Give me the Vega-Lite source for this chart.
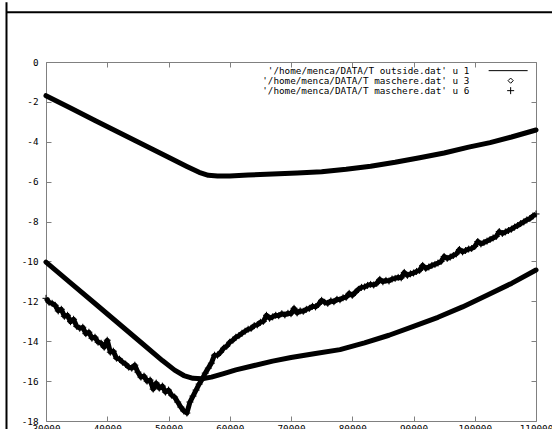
{
  "$schema": "https://vega.github.io/schema/vega-lite/v6.json",
  "width": 490,
  "height": 359,
  "autosize": {"type": "none"},
  "padding": {"left": 46, "top": 62, "right": 16, "bottom": 8},
  "background": "white",
  "title": {
    "text": "Air temperature and motor masks at float",
    "font": "DejaVu Sans Mono",
    "fontSize": 9.3,
    "fontWeight": "normal",
    "color": "black",
    "anchor": "middle",
    "dx": -15,
    "offset": 9
  },
  "config": {
    "view": {"stroke": null},
    "axis": {
      "domainColor": "#808080",
      "tickColor": "#808080",
      "domainWidth": 1,
      "tickWidth": 1,
      "labelFont": "DejaVu Sans Mono",
      "labelFontSize": 9.3,
      "labelColor": "black",
      "labelFlush": false,
      "grid": false,
      "title": null
    }
  },
  "data": {
    "values": [
      {"series": "'/home/menca/DATA/T outside.dat' u 1", "t": 30000, "temp": -1.69},
      {"series": "'/home/menca/DATA/T outside.dat' u 1", "t": 34000, "temp": -2.31},
      {"series": "'/home/menca/DATA/T outside.dat' u 1", "t": 38000, "temp": -2.93},
      {"series": "'/home/menca/DATA/T outside.dat' u 1", "t": 42000, "temp": -3.55},
      {"series": "'/home/menca/DATA/T outside.dat' u 1", "t": 46000, "temp": -4.16},
      {"series": "'/home/menca/DATA/T outside.dat' u 1", "t": 50000, "temp": -4.78},
      {"series": "'/home/menca/DATA/T outside.dat' u 1", "t": 53000, "temp": -5.24},
      {"series": "'/home/menca/DATA/T outside.dat' u 1", "t": 55000, "temp": -5.53},
      {"series": "'/home/menca/DATA/T outside.dat' u 1", "t": 56500, "temp": -5.68},
      {"series": "'/home/menca/DATA/T outside.dat' u 1", "t": 58000, "temp": -5.72},
      {"series": "'/home/menca/DATA/T outside.dat' u 1", "t": 60000, "temp": -5.71},
      {"series": "'/home/menca/DATA/T outside.dat' u 1", "t": 63000, "temp": -5.67},
      {"series": "'/home/menca/DATA/T outside.dat' u 1", "t": 67000, "temp": -5.62},
      {"series": "'/home/menca/DATA/T outside.dat' u 1", "t": 71000, "temp": -5.57},
      {"series": "'/home/menca/DATA/T outside.dat' u 1", "t": 75000, "temp": -5.5},
      {"series": "'/home/menca/DATA/T outside.dat' u 1", "t": 79000, "temp": -5.38},
      {"series": "'/home/menca/DATA/T outside.dat' u 1", "t": 83000, "temp": -5.23},
      {"series": "'/home/menca/DATA/T outside.dat' u 1", "t": 87000, "temp": -5.03},
      {"series": "'/home/menca/DATA/T outside.dat' u 1", "t": 91000, "temp": -4.8},
      {"series": "'/home/menca/DATA/T outside.dat' u 1", "t": 95000, "temp": -4.56},
      {"series": "'/home/menca/DATA/T outside.dat' u 1", "t": 99000, "temp": -4.27},
      {"series": "'/home/menca/DATA/T outside.dat' u 1", "t": 102500, "temp": -4.04},
      {"series": "'/home/menca/DATA/T outside.dat' u 1", "t": 106000, "temp": -3.76},
      {"series": "'/home/menca/DATA/T outside.dat' u 1", "t": 110000, "temp": -3.41},

      {"series": "'/home/menca/DATA/T maschere.dat' u 3", "t": 30000, "temp": -10.03},
      {"series": "'/home/menca/DATA/T maschere.dat' u 3", "t": 34000, "temp": -11.07},
      {"series": "'/home/menca/DATA/T maschere.dat' u 3", "t": 38000, "temp": -12.11},
      {"series": "'/home/menca/DATA/T maschere.dat' u 3", "t": 42000, "temp": -13.15},
      {"series": "'/home/menca/DATA/T maschere.dat' u 3", "t": 46000, "temp": -14.19},
      {"series": "'/home/menca/DATA/T maschere.dat' u 3", "t": 49000, "temp": -14.97},
      {"series": "'/home/menca/DATA/T maschere.dat' u 3", "t": 51000, "temp": -15.45},
      {"series": "'/home/menca/DATA/T maschere.dat' u 3", "t": 52500, "temp": -15.72},
      {"series": "'/home/menca/DATA/T maschere.dat' u 3", "t": 54000, "temp": -15.86},
      {"series": "'/home/menca/DATA/T maschere.dat' u 3", "t": 55500, "temp": -15.88},
      {"series": "'/home/menca/DATA/T maschere.dat' u 3", "t": 57000, "temp": -15.8},
      {"series": "'/home/menca/DATA/T maschere.dat' u 3", "t": 59000, "temp": -15.62},
      {"series": "'/home/menca/DATA/T maschere.dat' u 3", "t": 61000, "temp": -15.44},
      {"series": "'/home/menca/DATA/T maschere.dat' u 3", "t": 64000, "temp": -15.22},
      {"series": "'/home/menca/DATA/T maschere.dat' u 3", "t": 67000, "temp": -15.0},
      {"series": "'/home/menca/DATA/T maschere.dat' u 3", "t": 70000, "temp": -14.82},
      {"series": "'/home/menca/DATA/T maschere.dat' u 3", "t": 74000, "temp": -14.62},
      {"series": "'/home/menca/DATA/T maschere.dat' u 3", "t": 78000, "temp": -14.42},
      {"series": "'/home/menca/DATA/T maschere.dat' u 3", "t": 82000, "temp": -14.08},
      {"series": "'/home/menca/DATA/T maschere.dat' u 3", "t": 86000, "temp": -13.7},
      {"series": "'/home/menca/DATA/T maschere.dat' u 3", "t": 90000, "temp": -13.26},
      {"series": "'/home/menca/DATA/T maschere.dat' u 3", "t": 94000, "temp": -12.8},
      {"series": "'/home/menca/DATA/T maschere.dat' u 3", "t": 98000, "temp": -12.28},
      {"series": "'/home/menca/DATA/T maschere.dat' u 3", "t": 102000, "temp": -11.7},
      {"series": "'/home/menca/DATA/T maschere.dat' u 3", "t": 106000, "temp": -11.1},
      {"series": "'/home/menca/DATA/T maschere.dat' u 3", "t": 110000, "temp": -10.43},

      {"series": "'/home/menca/DATA/T maschere.dat' u 6", "t": 30000, "temp": -11.85},
      {"series": "'/home/menca/DATA/T maschere.dat' u 6", "t": 30500, "temp": -12.05},
      {"series": "'/home/menca/DATA/T maschere.dat' u 6", "t": 31000, "temp": -12.1},
      {"series": "'/home/menca/DATA/T maschere.dat' u 6", "t": 31500, "temp": -12.2},
      {"series": "'/home/menca/DATA/T maschere.dat' u 6", "t": 32000, "temp": -12.48},
      {"series": "'/home/menca/DATA/T maschere.dat' u 6", "t": 32500, "temp": -12.4},
      {"series": "'/home/menca/DATA/T maschere.dat' u 6", "t": 33000, "temp": -12.75},
      {"series": "'/home/menca/DATA/T maschere.dat' u 6", "t": 33500, "temp": -12.7},
      {"series": "'/home/menca/DATA/T maschere.dat' u 6", "t": 34000, "temp": -13.02},
      {"series": "'/home/menca/DATA/T maschere.dat' u 6", "t": 34500, "temp": -12.9},
      {"series": "'/home/menca/DATA/T maschere.dat' u 6", "t": 35000, "temp": -13.25},
      {"series": "'/home/menca/DATA/T maschere.dat' u 6", "t": 35500, "temp": -13.35},
      {"series": "'/home/menca/DATA/T maschere.dat' u 6", "t": 36000, "temp": -13.3},
      {"series": "'/home/menca/DATA/T maschere.dat' u 6", "t": 36500, "temp": -13.62},
      {"series": "'/home/menca/DATA/T maschere.dat' u 6", "t": 37000, "temp": -13.55},
      {"series": "'/home/menca/DATA/T maschere.dat' u 6", "t": 37500, "temp": -13.85},
      {"series": "'/home/menca/DATA/T maschere.dat' u 6", "t": 38000, "temp": -13.8},
      {"series": "'/home/menca/DATA/T maschere.dat' u 6", "t": 38500, "temp": -14.05},
      {"series": "'/home/menca/DATA/T maschere.dat' u 6", "t": 39000, "temp": -14.1},
      {"series": "'/home/menca/DATA/T maschere.dat' u 6", "t": 39500, "temp": -14.3},
      {"series": "'/home/menca/DATA/T maschere.dat' u 6", "t": 40000, "temp": -13.95},
      {"series": "'/home/menca/DATA/T maschere.dat' u 6", "t": 40500, "temp": -14.55},
      {"series": "'/home/menca/DATA/T maschere.dat' u 6", "t": 41000, "temp": -14.5},
      {"series": "'/home/menca/DATA/T maschere.dat' u 6", "t": 41500, "temp": -14.85},
      {"series": "'/home/menca/DATA/T maschere.dat' u 6", "t": 42000, "temp": -14.9},
      {"series": "'/home/menca/DATA/T maschere.dat' u 6", "t": 42500, "temp": -15.05},
      {"series": "'/home/menca/DATA/T maschere.dat' u 6", "t": 43000, "temp": -15.15},
      {"series": "'/home/menca/DATA/T maschere.dat' u 6", "t": 43500, "temp": -15.3},
      {"series": "'/home/menca/DATA/T maschere.dat' u 6", "t": 44000, "temp": -15.35},
      {"series": "'/home/menca/DATA/T maschere.dat' u 6", "t": 44500, "temp": -15.2},
      {"series": "'/home/menca/DATA/T maschere.dat' u 6", "t": 45000, "temp": -15.55},
      {"series": "'/home/menca/DATA/T maschere.dat' u 6", "t": 45500, "temp": -15.8},
      {"series": "'/home/menca/DATA/T maschere.dat' u 6", "t": 46000, "temp": -15.75},
      {"series": "'/home/menca/DATA/T maschere.dat' u 6", "t": 46500, "temp": -16.0},
      {"series": "'/home/menca/DATA/T maschere.dat' u 6", "t": 47000, "temp": -15.95},
      {"series": "'/home/menca/DATA/T maschere.dat' u 6", "t": 47500, "temp": -16.4},
      {"series": "'/home/menca/DATA/T maschere.dat' u 6", "t": 48000, "temp": -16.1},
      {"series": "'/home/menca/DATA/T maschere.dat' u 6", "t": 48500, "temp": -16.35},
      {"series": "'/home/menca/DATA/T maschere.dat' u 6", "t": 49000, "temp": -16.25},
      {"series": "'/home/menca/DATA/T maschere.dat' u 6", "t": 49500, "temp": -16.55},
      {"series": "'/home/menca/DATA/T maschere.dat' u 6", "t": 50000, "temp": -16.45},
      {"series": "'/home/menca/DATA/T maschere.dat' u 6", "t": 50500, "temp": -16.7},
      {"series": "'/home/menca/DATA/T maschere.dat' u 6", "t": 51000, "temp": -16.8},
      {"series": "'/home/menca/DATA/T maschere.dat' u 6", "t": 51500, "temp": -17.05},
      {"series": "'/home/menca/DATA/T maschere.dat' u 6", "t": 52000, "temp": -17.3},
      {"series": "'/home/menca/DATA/T maschere.dat' u 6", "t": 52500, "temp": -17.5},
      {"series": "'/home/menca/DATA/T maschere.dat' u 6", "t": 53000, "temp": -17.6},
      {"series": "'/home/menca/DATA/T maschere.dat' u 6", "t": 53500, "temp": -17.05},
      {"series": "'/home/menca/DATA/T maschere.dat' u 6", "t": 54000, "temp": -16.75},
      {"series": "'/home/menca/DATA/T maschere.dat' u 6", "t": 54500, "temp": -16.45},
      {"series": "'/home/menca/DATA/T maschere.dat' u 6", "t": 55000, "temp": -16.15},
      {"series": "'/home/menca/DATA/T maschere.dat' u 6", "t": 55500, "temp": -15.9},
      {"series": "'/home/menca/DATA/T maschere.dat' u 6", "t": 56000, "temp": -15.6},
      {"series": "'/home/menca/DATA/T maschere.dat' u 6", "t": 56500, "temp": -15.35},
      {"series": "'/home/menca/DATA/T maschere.dat' u 6", "t": 57000, "temp": -15.1},
      {"series": "'/home/menca/DATA/T maschere.dat' u 6", "t": 57500, "temp": -14.7},
      {"series": "'/home/menca/DATA/T maschere.dat' u 6", "t": 58000, "temp": -14.7},
      {"series": "'/home/menca/DATA/T maschere.dat' u 6", "t": 58500, "temp": -14.55},
      {"series": "'/home/menca/DATA/T maschere.dat' u 6", "t": 59000, "temp": -14.35},
      {"series": "'/home/menca/DATA/T maschere.dat' u 6", "t": 59500, "temp": -14.25},
      {"series": "'/home/menca/DATA/T maschere.dat' u 6", "t": 60000, "temp": -14.05},
      {"series": "'/home/menca/DATA/T maschere.dat' u 6", "t": 60500, "temp": -13.95},
      {"series": "'/home/menca/DATA/T maschere.dat' u 6", "t": 61000, "temp": -13.8},
      {"series": "'/home/menca/DATA/T maschere.dat' u 6", "t": 61500, "temp": -13.72},
      {"series": "'/home/menca/DATA/T maschere.dat' u 6", "t": 62000, "temp": -13.6},
      {"series": "'/home/menca/DATA/T maschere.dat' u 6", "t": 62500, "temp": -13.5},
      {"series": "'/home/menca/DATA/T maschere.dat' u 6", "t": 63000, "temp": -13.4},
      {"series": "'/home/menca/DATA/T maschere.dat' u 6", "t": 63500, "temp": -13.35},
      {"series": "'/home/menca/DATA/T maschere.dat' u 6", "t": 64000, "temp": -13.22},
      {"series": "'/home/menca/DATA/T maschere.dat' u 6", "t": 64500, "temp": -13.18},
      {"series": "'/home/menca/DATA/T maschere.dat' u 6", "t": 65000, "temp": -13.05},
      {"series": "'/home/menca/DATA/T maschere.dat' u 6", "t": 65500, "temp": -13.0},
      {"series": "'/home/menca/DATA/T maschere.dat' u 6", "t": 66000, "temp": -12.7},
      {"series": "'/home/menca/DATA/T maschere.dat' u 6", "t": 66500, "temp": -12.85},
      {"series": "'/home/menca/DATA/T maschere.dat' u 6", "t": 67000, "temp": -12.78},
      {"series": "'/home/menca/DATA/T maschere.dat' u 6", "t": 67500, "temp": -12.7},
      {"series": "'/home/menca/DATA/T maschere.dat' u 6", "t": 68000, "temp": -12.72},
      {"series": "'/home/menca/DATA/T maschere.dat' u 6", "t": 68500, "temp": -12.62},
      {"series": "'/home/menca/DATA/T maschere.dat' u 6", "t": 69000, "temp": -12.68},
      {"series": "'/home/menca/DATA/T maschere.dat' u 6", "t": 69500, "temp": -12.6},
      {"series": "'/home/menca/DATA/T maschere.dat' u 6", "t": 70000, "temp": -12.62},
      {"series": "'/home/menca/DATA/T maschere.dat' u 6", "t": 70500, "temp": -12.35},
      {"series": "'/home/menca/DATA/T maschere.dat' u 6", "t": 71000, "temp": -12.58},
      {"series": "'/home/menca/DATA/T maschere.dat' u 6", "t": 71500, "temp": -12.48},
      {"series": "'/home/menca/DATA/T maschere.dat' u 6", "t": 72000, "temp": -12.5},
      {"series": "'/home/menca/DATA/T maschere.dat' u 6", "t": 72500, "temp": -12.4},
      {"series": "'/home/menca/DATA/T maschere.dat' u 6", "t": 73000, "temp": -12.35},
      {"series": "'/home/menca/DATA/T maschere.dat' u 6", "t": 73500, "temp": -12.25},
      {"series": "'/home/menca/DATA/T maschere.dat' u 6", "t": 74000, "temp": -12.28},
      {"series": "'/home/menca/DATA/T maschere.dat' u 6", "t": 74500, "temp": -12.15},
      {"series": "'/home/menca/DATA/T maschere.dat' u 6", "t": 75000, "temp": -11.95},
      {"series": "'/home/menca/DATA/T maschere.dat' u 6", "t": 75500, "temp": -12.05},
      {"series": "'/home/menca/DATA/T maschere.dat' u 6", "t": 76000, "temp": -12.1},
      {"series": "'/home/menca/DATA/T maschere.dat' u 6", "t": 76500, "temp": -11.98},
      {"series": "'/home/menca/DATA/T maschere.dat' u 6", "t": 77000, "temp": -12.02},
      {"series": "'/home/menca/DATA/T maschere.dat' u 6", "t": 77500, "temp": -11.9},
      {"series": "'/home/menca/DATA/T maschere.dat' u 6", "t": 78000, "temp": -11.92},
      {"series": "'/home/menca/DATA/T maschere.dat' u 6", "t": 78500, "temp": -11.82},
      {"series": "'/home/menca/DATA/T maschere.dat' u 6", "t": 79000, "temp": -11.8},
      {"series": "'/home/menca/DATA/T maschere.dat' u 6", "t": 79500, "temp": -11.6},
      {"series": "'/home/menca/DATA/T maschere.dat' u 6", "t": 80000, "temp": -11.7},
      {"series": "'/home/menca/DATA/T maschere.dat' u 6", "t": 80500, "temp": -11.55},
      {"series": "'/home/menca/DATA/T maschere.dat' u 6", "t": 81000, "temp": -11.4},
      {"series": "'/home/menca/DATA/T maschere.dat' u 6", "t": 81500, "temp": -11.3},
      {"series": "'/home/menca/DATA/T maschere.dat' u 6", "t": 82000, "temp": -11.28},
      {"series": "'/home/menca/DATA/T maschere.dat' u 6", "t": 82500, "temp": -11.2},
      {"series": "'/home/menca/DATA/T maschere.dat' u 6", "t": 83000, "temp": -11.15},
      {"series": "'/home/menca/DATA/T maschere.dat' u 6", "t": 83500, "temp": -11.18},
      {"series": "'/home/menca/DATA/T maschere.dat' u 6", "t": 84000, "temp": -11.1},
      {"series": "'/home/menca/DATA/T maschere.dat' u 6", "t": 84500, "temp": -10.9},
      {"series": "'/home/menca/DATA/T maschere.dat' u 6", "t": 85000, "temp": -11.02},
      {"series": "'/home/menca/DATA/T maschere.dat' u 6", "t": 85500, "temp": -10.95},
      {"series": "'/home/menca/DATA/T maschere.dat' u 6", "t": 86000, "temp": -10.98},
      {"series": "'/home/menca/DATA/T maschere.dat' u 6", "t": 86500, "temp": -10.88},
      {"series": "'/home/menca/DATA/T maschere.dat' u 6", "t": 87000, "temp": -10.85},
      {"series": "'/home/menca/DATA/T maschere.dat' u 6", "t": 87500, "temp": -10.8},
      {"series": "'/home/menca/DATA/T maschere.dat' u 6", "t": 88000, "temp": -10.82},
      {"series": "'/home/menca/DATA/T maschere.dat' u 6", "t": 88500, "temp": -10.55},
      {"series": "'/home/menca/DATA/T maschere.dat' u 6", "t": 89000, "temp": -10.7},
      {"series": "'/home/menca/DATA/T maschere.dat' u 6", "t": 89500, "temp": -10.62},
      {"series": "'/home/menca/DATA/T maschere.dat' u 6", "t": 90000, "temp": -10.58},
      {"series": "'/home/menca/DATA/T maschere.dat' u 6", "t": 90500, "temp": -10.5},
      {"series": "'/home/menca/DATA/T maschere.dat' u 6", "t": 91000, "temp": -10.45},
      {"series": "'/home/menca/DATA/T maschere.dat' u 6", "t": 91500, "temp": -10.2},
      {"series": "'/home/menca/DATA/T maschere.dat' u 6", "t": 92000, "temp": -10.35},
      {"series": "'/home/menca/DATA/T maschere.dat' u 6", "t": 92500, "temp": -10.28},
      {"series": "'/home/menca/DATA/T maschere.dat' u 6", "t": 93000, "temp": -10.2},
      {"series": "'/home/menca/DATA/T maschere.dat' u 6", "t": 93500, "temp": -10.15},
      {"series": "'/home/menca/DATA/T maschere.dat' u 6", "t": 94000, "temp": -10.08},
      {"series": "'/home/menca/DATA/T maschere.dat' u 6", "t": 94500, "temp": -10.0},
      {"series": "'/home/menca/DATA/T maschere.dat' u 6", "t": 95000, "temp": -9.75},
      {"series": "'/home/menca/DATA/T maschere.dat' u 6", "t": 95500, "temp": -9.85},
      {"series": "'/home/menca/DATA/T maschere.dat' u 6", "t": 96000, "temp": -9.78},
      {"series": "'/home/menca/DATA/T maschere.dat' u 6", "t": 96500, "temp": -9.7},
      {"series": "'/home/menca/DATA/T maschere.dat' u 6", "t": 97000, "temp": -9.62},
      {"series": "'/home/menca/DATA/T maschere.dat' u 6", "t": 97500, "temp": -9.4},
      {"series": "'/home/menca/DATA/T maschere.dat' u 6", "t": 98000, "temp": -9.52},
      {"series": "'/home/menca/DATA/T maschere.dat' u 6", "t": 98500, "temp": -9.45},
      {"series": "'/home/menca/DATA/T maschere.dat' u 6", "t": 99000, "temp": -9.38},
      {"series": "'/home/menca/DATA/T maschere.dat' u 6", "t": 99500, "temp": -9.35},
      {"series": "'/home/menca/DATA/T maschere.dat' u 6", "t": 100000, "temp": -9.25},
      {"series": "'/home/menca/DATA/T maschere.dat' u 6", "t": 100500, "temp": -9.0},
      {"series": "'/home/menca/DATA/T maschere.dat' u 6", "t": 101000, "temp": -9.12},
      {"series": "'/home/menca/DATA/T maschere.dat' u 6", "t": 101500, "temp": -9.05},
      {"series": "'/home/menca/DATA/T maschere.dat' u 6", "t": 102000, "temp": -8.98},
      {"series": "'/home/menca/DATA/T maschere.dat' u 6", "t": 102500, "temp": -8.9},
      {"series": "'/home/menca/DATA/T maschere.dat' u 6", "t": 103000, "temp": -8.82},
      {"series": "'/home/menca/DATA/T maschere.dat' u 6", "t": 103500, "temp": -8.75},
      {"series": "'/home/menca/DATA/T maschere.dat' u 6", "t": 104000, "temp": -8.5},
      {"series": "'/home/menca/DATA/T maschere.dat' u 6", "t": 104500, "temp": -8.6},
      {"series": "'/home/menca/DATA/T maschere.dat' u 6", "t": 105000, "temp": -8.52},
      {"series": "'/home/menca/DATA/T maschere.dat' u 6", "t": 105500, "temp": -8.45},
      {"series": "'/home/menca/DATA/T maschere.dat' u 6", "t": 106000, "temp": -8.38},
      {"series": "'/home/menca/DATA/T maschere.dat' u 6", "t": 106500, "temp": -8.28},
      {"series": "'/home/menca/DATA/T maschere.dat' u 6", "t": 107000, "temp": -8.2},
      {"series": "'/home/menca/DATA/T maschere.dat' u 6", "t": 107500, "temp": -8.1},
      {"series": "'/home/menca/DATA/T maschere.dat' u 6", "t": 108000, "temp": -8.02},
      {"series": "'/home/menca/DATA/T maschere.dat' u 6", "t": 108500, "temp": -7.92},
      {"series": "'/home/menca/DATA/T maschere.dat' u 6", "t": 109000, "temp": -7.85},
      {"series": "'/home/menca/DATA/T maschere.dat' u 6", "t": 109500, "temp": -7.72},
      {"series": "'/home/menca/DATA/T maschere.dat' u 6", "t": 110000, "temp": -7.62}
    ]
  },
  "resolve": {"axis": {"x": "independent", "y": "independent"}},
  "layer": [
    {
      "transform": [{"filter": {"field": "series", "oneOf": ["'/home/menca/DATA/T outside.dat' u 1", "'/home/menca/DATA/T maschere.dat' u 3"]}}],
      "mark": {"type": "line", "color": "black", "strokeWidth": 5, "strokeJoin": "round", "strokeCap": "round"},
      "encoding": {
        "x": {
          "field": "t", "type": "quantitative",
          "scale": {"domain": [30000, 110000], "nice": false, "zero": false},
          "axis": {"orient": "bottom", "values": [30000, 40000, 50000, 60000, 70000, 80000, 90000, 100000, 110000], "format": "d", "tickSize": -5, "labelPadding": 8}
        },
        "y": {
          "field": "temp", "type": "quantitative",
          "scale": {"domain": [-18, 0], "nice": false, "zero": false},
          "axis": {"orient": "left", "values": [0, -2, -4, -6, -8, -10, -12, -14, -16, -18], "tickSize": -5, "labelPadding": 13, "labelExpr": "datum.value < 0 ? '-' + abs(datum.value) : '' + datum.value"}
        },
        "detail": {"field": "series"}
      }
    },
    {
      "transform": [{"filter": {"field": "series", "equal": "'/home/menca/DATA/T maschere.dat' u 6"}}],
      "mark": {"type": "line", "color": "black", "strokeWidth": 5, "strokeJoin": "round"},
      "encoding": {
        "x": {"field": "t", "type": "quantitative", "axis": null},
        "y": {"field": "temp", "type": "quantitative", "axis": null}
      }
    },
    {
      "transform": [{"filter": {"field": "series", "equal": "'/home/menca/DATA/T maschere.dat' u 6"}}],
      "mark": {"type": "point", "filled": false, "color": "black", "strokeWidth": 1, "size": 64, "opacity": 1},
      "encoding": {
        "x": {"field": "t", "type": "quantitative", "axis": {"orient": "top", "labels": false, "tickSize": -5, "values": [30000, 40000, 50000, 60000, 70000, 80000, 90000, 100000, 110000]}},
        "y": {"field": "temp", "type": "quantitative", "axis": {"orient": "right", "labels": false, "tickSize": -5, "values": [0, -2, -4, -6, -8, -10, -12, -14, -16, -18]}},
        "shape": {
          "field": "series", "type": "nominal",
          "scale": {
            "domain": ["'/home/menca/DATA/T outside.dat' u 1", "'/home/menca/DATA/T maschere.dat' u 3", "'/home/menca/DATA/T maschere.dat' u 6"],
            "range": ["M-5.5,0H4.25", "M0,-0.65L0.65,0L0,0.65L-0.65,0Z", "M-0.875,0H0.875M0,-0.875V0.875"]
          },
          "legend": {
            "orient": "none", "legendX": 460, "legendY": 4, "title": null, "padding": 0,
            "labelFont": "DejaVu Sans Mono", "labelFontSize": 9.3, "labelColor": "black", "labelLimit": 400,
            "labelAlign": "right", "labelOffset": -46,
            "symbolSize": 64, "symbolStrokeWidth": 1, "symbolStrokeColor": "black", "symbolFillColor": "black",
            "rowPadding": -3
          }
        }
      }
    },
    {
      "data": {"values": [{}]},
      "mark": {"type": "rule", "color": "black", "strokeWidth": 2},
      "encoding": {
        "x": {"datum": 23550, "type": "quantitative", "axis": null},
        "y": {"datum": 3, "type": "quantitative", "axis": null},
        "y2": {"datum": -19}
      }
    },
    {
      "data": {"values": [{}]},
      "mark": {"type": "rule", "color": "black", "strokeWidth": 2},
      "encoding": {
        "x": {"datum": 23550, "type": "quantitative", "axis": null},
        "x2": {"datum": 114000},
        "y": {"datum": 2.5, "type": "quantitative", "axis": null}
      }
    }
  ]
}
